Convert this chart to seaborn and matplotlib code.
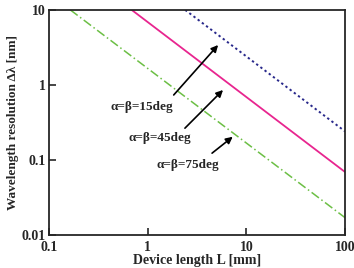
import numpy as np
import pandas as pd
import matplotlib
matplotlib.use("Agg")
import matplotlib.pyplot as plt
import seaborn as sns

# endpoints (straight lines on log-log axes)
length_15 = [2.4, 100]
res_15 = [10, 0.24]
length_45 = [0.69, 100]
res_45 = [10, 0.069]
length_75 = [0.165, 100]
res_75 = [10, 0.017]

labels = ["α=β=15deg", "α=β=45deg", "α=β=75deg"]
x_ticks = [0.1, 1, 10, 100]
x_tick_labels = ["0.1", "1", "10", "100"]
y_ticks = [0.01, 0.1, 1, 10]
y_tick_labels = ["0.01", "0.1", "1", "10"]

sns.set_style("ticks")
plt.rcParams["font.family"] = ["Liberation Serif", "DejaVu Serif"]
plt.rcParams["font.weight"] = "bold"

fig = plt.figure(figsize=(3.54, 2.68), dpi=100)
ax = fig.add_axes([0.138, 0.123, 0.837, 0.84])

df15 = pd.DataFrame({"L": length_15, "res": res_15})
df45 = pd.DataFrame({"L": length_45, "res": res_45})
df75 = pd.DataFrame({"L": length_75, "res": res_75})

sns.lineplot(data=df15, x="L", y="res", ax=ax, color="#2a2a8c", lw=1.4)
ax.lines[-1].set_linestyle((0, (1.2, 1.5)))
sns.lineplot(data=df45, x="L", y="res", ax=ax, color="#e8258f", lw=1.3)
sns.lineplot(data=df75, x="L", y="res", ax=ax, color="#6cbf45", lw=1.1)
ax.lines[-1].set_linestyle((0, (6, 2, 1, 2)))

ax.set_xscale("log")
ax.set_yscale("log")
ax.set_xlim(0.1, 100)
ax.set_ylim(0.01, 10)
ax.set_xticks(x_ticks)
ax.set_xticklabels(x_tick_labels)
ax.set_yticks(y_ticks)
ax.set_yticklabels(y_tick_labels)
ax.minorticks_off()
ax.tick_params(direction="in", length=5, width=1.2, labelsize=10)
ax.tick_params(axis="x", pad=4)
ax.tick_params(axis="y", pad=2)
for lab in ax.get_xticklabels() + ax.get_yticklabels():
    lab.set_fontweight("bold")
for sp in ax.spines.values():
    sp.set_visible(True)
    sp.set_linewidth(1.3)

ax.set_xlabel("Device length L [mm]", fontsize=10, fontweight="bold", labelpad=0)
ax.set_ylabel("Wavelength resolution Δλ [nm]", fontsize=9.5, fontweight="bold", labelpad=2)

arrow = dict(arrowstyle="-|>", color="black", lw=1.2, mutation_scale=10)
ax.annotate("", xy=(5.4, 3.63), xytext=(1.76, 0.69), arrowprops=arrow)
ax.annotate("", xy=(6.07, 0.91), xytext=(2.28, 0.25), arrowprops=arrow)
ax.annotate("", xy=(7.65, 0.215), xytext=(4.27, 0.117), arrowprops=arrow)
ax.text(0.875, 0.51, labels[0], ha="center", va="center", fontsize=9.5, fontweight="bold")
ax.text(1.33, 0.197, labels[1], ha="center", va="center", fontsize=9.5, fontweight="bold")
ax.text(2.56, 0.0858, labels[2], ha="center", va="center", fontsize=9.5, fontweight="bold")

fig.savefig("out.png", dpi=100)
